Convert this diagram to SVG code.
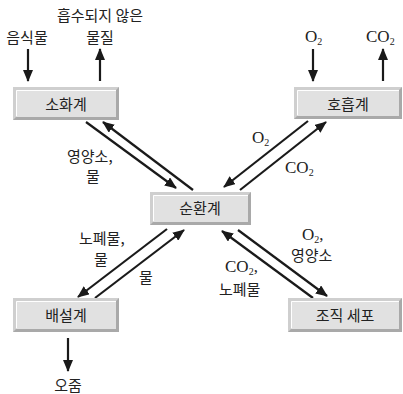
<svg xmlns="http://www.w3.org/2000/svg" width="403" height="394" viewBox="0 0 403 394">
<defs>
<marker id="ah" viewBox="0 0 12 10" refX="11" refY="5" markerWidth="12" markerHeight="10" markerUnits="userSpaceOnUse" orient="auto">
<path d="M0,0 L12,5 L0,10 Z" fill="#1a1a1a"/>
</marker>
</defs>
<style>
.kr{font-family:"Noto Sans CJK KR","Noto Sans",sans-serif;font-size:15px;fill:#222}
.sf{font-family:"Liberation Serif","DejaVu Serif",serif;font-size:17px;fill:#222}
.sub{font-size:10px}
.mid{text-anchor:middle}
.ln{stroke:#1a1a1a;stroke-width:2.2;fill:none;marker-end:url(#ah)}
.frame{fill:#a9a9a9}
.hi{fill:#cfcfcf}
.face{fill:#e1e1e1}
.edge{stroke:#ffffff;stroke-width:1;fill:none}
</style>
<rect width="403" height="394" fill="#ffffff"/>

<g id="connectors">
<path class="ln" d="M86,122 L176,188"/>
<path class="ln" d="M193,190 L103,122"/>
<path class="ln" d="M308,121 L224,187"/>
<path class="ln" d="M240,190 L326,122"/>
<path class="ln" d="M167,229 L78,297"/>
<path class="ln" d="M95,298 L184,230"/>
<path class="ln" d="M313,298 L222,231"/>
<path class="ln" d="M238,230 L327,296"/>
<path class="ln" d="M28,49 L28,81"/>
<path class="ln" d="M100,81 L100,49"/>
<path class="ln" d="M313,49 L313,81"/>
<path class="ln" d="M383,81 L383,49"/>
<path class="ln" d="M68,338 L68,371"/>
</g>

<g id="labels">
<text class="kr mid" x="100" y="21">흡수되지 않은</text>
<text class="kr mid" x="27" y="43">음식물</text>
<text class="kr mid" x="100" y="43">물질</text>
<text class="sf" x="305" y="42">O<tspan class="sub" dy="3">2</tspan></text>
<text class="sf" x="366" y="42">CO<tspan class="sub" dy="3">2</tspan></text>
<text class="kr" x="67" y="162">영양소,</text>
<text class="kr" x="86" y="182">물</text>
<text class="sf" x="252" y="143">O<tspan class="sub" dy="3">2</tspan></text>
<text class="sf" x="285" y="173">CO<tspan class="sub" dy="3">2</tspan></text>
<text class="kr" x="79" y="244">노폐물,</text>
<text class="kr" x="94" y="265">물</text>
<text class="kr" x="139" y="283">물</text>
<text class="sf" x="302" y="240">O<tspan class="sub" dy="3">2</tspan><tspan dy="-3">,</tspan></text>
<text class="kr" x="291" y="261">영양소</text>
<text class="sf" x="225" y="272">CO<tspan class="sub" dy="3">2</tspan><tspan dy="-3">,</tspan></text>
<text class="kr" x="219" y="295">노폐물</text>
<text class="kr mid" x="68" y="391">오줌</text>
</g>

<g id="node-digestive">
<rect class="frame" x="13" y="87" width="106" height="33"/>
<path class="hi" d="M13,87 H119 L116,90 H16 V117 L13,120 Z"/>
<rect class="face" x="16" y="90" width="100" height="27"/>
<path class="edge" d="M16.5,116 V90.5 H116"/>
<text class="kr mid" x="66" y="110">소화계</text>
</g>

<g id="node-respiratory">
<rect class="frame" x="294" y="87" width="108" height="32"/>
<path class="hi" d="M294,87 H402 L399,90 H297 V116 L294,119 Z"/>
<rect class="face" x="297" y="90" width="102" height="26"/>
<path class="edge" d="M297.5,115 V90.5 H399"/>
<text class="kr mid" x="348" y="110">호흡계</text>
</g>

<g id="node-circulatory">
<rect class="frame" x="150" y="192" width="101" height="33"/>
<path class="hi" d="M150,192 H251 L248,195 H153 V222 L150,225 Z"/>
<rect class="face" x="153" y="195" width="95" height="27"/>
<path class="edge" d="M153.5,221 V195.5 H248"/>
<text class="kr mid" x="200" y="214">순환계</text>
</g>

<g id="node-excretory">
<rect class="frame" x="13" y="298" width="106" height="34"/>
<path class="hi" d="M13,298 H119 L116,301 H16 V329 L13,332 Z"/>
<rect class="face" x="16" y="301" width="100" height="28"/>
<path class="edge" d="M16.5,328 V301.5 H116"/>
<text class="kr mid" x="66" y="321">배설계</text>
</g>

<g id="node-tissue">
<rect class="frame" x="288" y="298" width="114" height="34"/>
<path class="hi" d="M288,298 H402 L399,301 H291 V329 L288,332 Z"/>
<rect class="face" x="291" y="301" width="108" height="28"/>
<path class="edge" d="M291.5,328 V301.5 H399"/>
<text class="kr mid" x="345" y="321">조직 세포</text>
</g>
</svg>
